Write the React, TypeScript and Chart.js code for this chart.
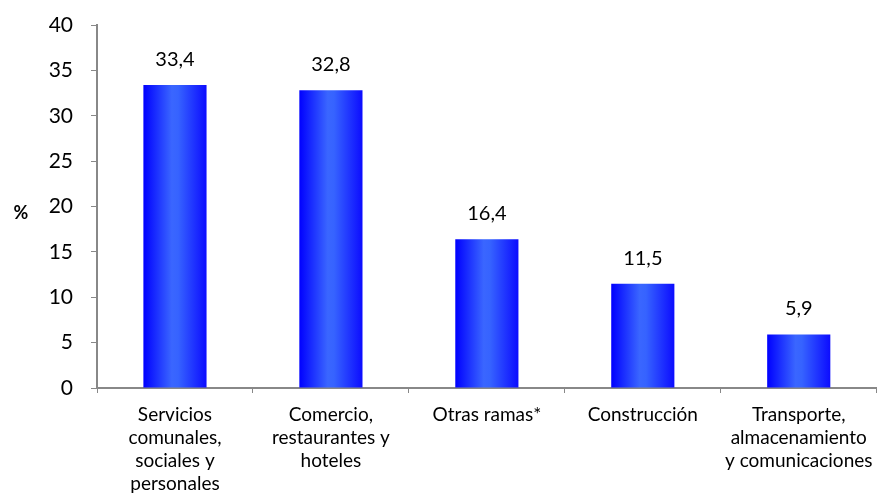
import React, { useEffect, useRef } from "react";
import { Chart, registerables } from "chart.js";

Chart.register(...registerables);

const categories: string[][] = [
  ["Servicios", "comunales,", "sociales y", "personales"],
  ["Comercio,", "restaurantes y", "hoteles"],
  ["Otras ramas*"],
  ["Construcción"],
  ["Transporte,", "almacenamiento", "y comunicaciones"],
];
const values: number[] = [33.4, 32.8, 16.4, 11.5, 5.9];
const yTicks: number[] = [0, 5, 10, 15, 20, 25, 30, 35, 40];
const yAxisLabel = "%";

const FONT = "Lato, 'Open Sans', sans-serif";

const valueLabels = {
  id: "valueLabels",
  afterDatasetsDraw(chart: any) {
    const ctx = chart.ctx;
    const meta = chart.getDatasetMeta(0);
    ctx.save();
    ctx.fillStyle = "#000";
    ctx.font = `20px ${FONT}`;
    ctx.textAlign = "center";
    ctx.textBaseline = "alphabetic";
    meta.data.forEach((bar: any, i: number) => {
      ctx.fillText(values[i].toFixed(1).replace(".", ","), bar.x, bar.y - 19);
    });
    ctx.restore();
  },
};

const axisTitle = {
  id: "axisTitle",
  afterDraw(chart: any) {
    const ctx = chart.ctx;
    ctx.save();
    ctx.fillStyle = "#000";
    ctx.font = `bold 18px ${FONT}`;
    ctx.textAlign = "center";
    ctx.textBaseline = "middle";
    ctx.fillText(yAxisLabel, 21, 213);
    ctx.restore();
  },
};

export default function App() {
  const ref = useRef<HTMLCanvasElement>(null);
  useEffect(() => {
    document.body.style.margin = "0";
    const canvas = ref.current!;
    const chart = new Chart(canvas, {
      type: "bar",
      data: {
        labels: categories,
        datasets: [
          {
            data: values,
            backgroundColor: (c: any) => {
              const ch = c.chart;
              const area = ch.chartArea;
              if (!area || c.dataIndex === undefined) return "#1a3dff";
              const xs = ch.scales.x;
              const cx = xs.getPixelForValue(c.dataIndex);
              const w = (xs.width / categories.length) * 0.405;
              const g = ch.ctx.createLinearGradient(cx - w / 2, 0, cx + w / 2, 0);
              g.addColorStop(0, "#0000ff");
              g.addColorStop(0.45, "#3a66ff");
              g.addColorStop(0.55, "#3663ff");
              g.addColorStop(1, "#0c0cff");
              return g;
            },
            borderWidth: 0,
            categoryPercentage: 1,
            barPercentage: 0.405,
          },
        ],
      },
      options: {
        animation: false,
        responsive: false,
        maintainAspectRatio: false,
        layout: { padding: { top: 25, right: 5, left: 0, bottom: 0 } },
        plugins: { legend: { display: false }, tooltip: { enabled: false } },
        scales: {
          x: {
            grid: {
              display: true,
              drawOnChartArea: false,
              tickLength: 5,
              color: "#888",
              offset: true,
            },
            border: { color: "#888", width: 2 },
            ticks: {
              color: "#000",
              font: { family: FONT, size: 19, lineHeight: 1.21 },
              maxRotation: 0,
              autoSkip: false,
              padding: 10,
            },
            afterFit: (s: any) => {
              s.height = 116;
            },
          },
          y: {
            min: 0,
            max: 40,
            afterBuildTicks: (s: any) => {
              s.ticks = yTicks.map((v) => ({ value: v }));
            },
            grid: {
              display: true,
              drawOnChartArea: false,
              tickLength: 6,
              color: "#888",
            },
            border: { color: "#888", width: 2 },
            ticks: {
              color: "#000",
              font: { family: FONT, size: 21 },
              padding: 18,
            },
            afterFit: (s: any) => {
              s.width = 97;
              s.paddingTop = 0;
              s.paddingBottom = 0;
            },
          },
        },
      },
      plugins: [valueLabels, axisTitle],
    });
    return () => chart.destroy();
  }, []);
  return (
    <div style={{ position: "relative", width: 883, height: 504, background: "#fff" }}>
      <canvas ref={ref} width={883} height={504} style={{ display: "block" }} />
    </div>
  );
}
